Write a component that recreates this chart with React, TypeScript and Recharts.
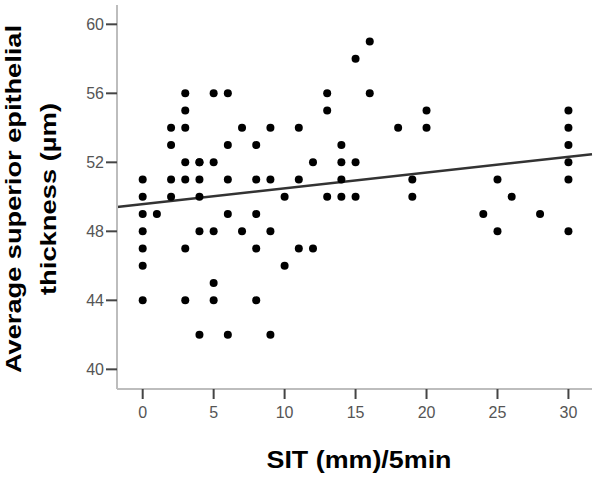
import React from "react";
import { ComposedChart, Scatter, XAxis, YAxis, ReferenceLine } from "recharts";

const xValues: number[] = [
  0, 0, 0, 0, 0, 0, 0,
  1,
  2, 2, 2, 2,
  3, 3, 3, 3, 3, 3, 3,
  4, 4, 4, 4, 4, 4,
  5, 5, 5, 5, 5,
  6, 6, 6, 6, 6,
  7, 7,
  8, 8, 8, 8, 8,
  9, 9, 9, 9,
  10, 10,
  11, 11, 11,
  12, 12,
  13, 13, 13,
  14, 14, 14, 14,
  15, 15, 15,
  16, 16,
  18,
  19, 19,
  20, 20,
  24,
  25, 25,
  26,
  28,
  30, 30, 30, 30, 30, 30,
];

const yValues: number[] = [
  51, 50, 49, 48, 47, 46, 44,
  49,
  54, 53, 51, 50,
  56, 55, 54, 52, 51, 47, 44,
  52, 52, 51, 50, 48, 42,
  56, 52, 48, 45, 44,
  56, 53, 51, 49, 42,
  54, 48,
  53, 51, 49, 47, 44,
  54, 51, 48, 42,
  50, 46,
  54, 51, 47,
  52, 47,
  56, 55, 50,
  53, 52, 51, 50,
  58, 52, 50,
  59, 56,
  54,
  51, 50,
  55, 54,
  49,
  51, 48,
  50,
  49,
  55, 54, 53, 52, 51, 48,
];

const xTicks = [0, 5, 10, 15, 20, 25, 30];
const yTicks = [40, 44, 48, 52, 56, 60];
const xDomain: [number, number] = [-1.81, 31.66];
const yDomain: [number, number] = [38.86, 61.12];

const fitIntercept = 49.58;
const fitSlope = 0.0913;

const xTitle = "SIT (mm)/5min";
const yTitleLine1 = "Average superior epithelial";
const yTitleLine2 = "thickness (µm)";

const points = xValues.map((x, i) => ({ x, y: yValues[i] }));
const fitSegment = [
  { x: xDomain[0], y: fitIntercept + fitSlope * xDomain[0] },
  { x: xDomain[1], y: fitIntercept + fitSlope * xDomain[1] },
];

const FONT = '"Liberation Sans", Arial, Helvetica, sans-serif';

const Dot = (props: any) => {
  const { cx, cy } = props;
  if (cx == null || cy == null) return <g />;
  return <circle cx={cx} cy={cy} r={4} fill="#000" />;
};

export default function App() {
  return (
    <div style={{ position: "absolute", left: 0, top: 0, width: 600, height: 479, background: "#fff" }}>
      <ComposedChart
        width={600}
        height={479}
        data={points}
        margin={{ top: 5, right: 8, bottom: 0, left: 0 }}
      >
        <XAxis
          type="number"
          dataKey="x"
          domain={xDomain}
          ticks={xTicks}
          allowDataOverflow
          height={90}
          axisLine={{ stroke: "#bdbdbd", strokeWidth: 2 }}
          tickLine={{ stroke: "#444", strokeWidth: 2 }}
          tickSize={10}
          tickMargin={8}
          tick={{ fill: "#555", fontSize: 16, fontFamily: FONT }}
        />
        <YAxis
          type="number"
          dataKey="y"
          domain={yDomain}
          ticks={yTicks}
          allowDataOverflow
          width={117}
          axisLine={{ stroke: "#bdbdbd", strokeWidth: 2 }}
          tickLine={{ stroke: "#444", strokeWidth: 2 }}
          tickSize={11}
          tickMargin={2}
          tick={{ fill: "#555", fontSize: 16, fontFamily: FONT }}
        />
        <ReferenceLine
          segment={fitSegment}
          stroke="#333"
          strokeWidth={2.5}
        />
        <Scatter data={points} shape={Dot} isAnimationActive={false} />
      </ComposedChart>
      <svg
        width={600}
        height={479}
        style={{ position: "absolute", left: 0, top: 0, pointerEvents: "none" }}
      >
        <text
          x={359}
          y={468}
          textAnchor="middle"
          fontFamily={FONT}
          fontWeight="bold"
          fontSize={23}
          fill="#000"
          textLength={185}
          lengthAdjust="spacingAndGlyphs"
        >
          {xTitle}
        </text>
        <text
          x={21}
          y={199}
          transform="rotate(-90 21 199)"
          textAnchor="middle"
          fontFamily={FONT}
          fontWeight="bold"
          fontSize={22}
          fill="#000"
          textLength={348}
          lengthAdjust="spacingAndGlyphs"
        >
          {yTitleLine1}
        </text>
        <text
          x={56}
          y={199}
          transform="rotate(-90 56 199)"
          textAnchor="middle"
          fontFamily={FONT}
          fontWeight="bold"
          fontSize={22}
          fill="#000"
          textLength={192}
          lengthAdjust="spacingAndGlyphs"
        >
          {yTitleLine2}
        </text>
      </svg>
    </div>
  );
}
